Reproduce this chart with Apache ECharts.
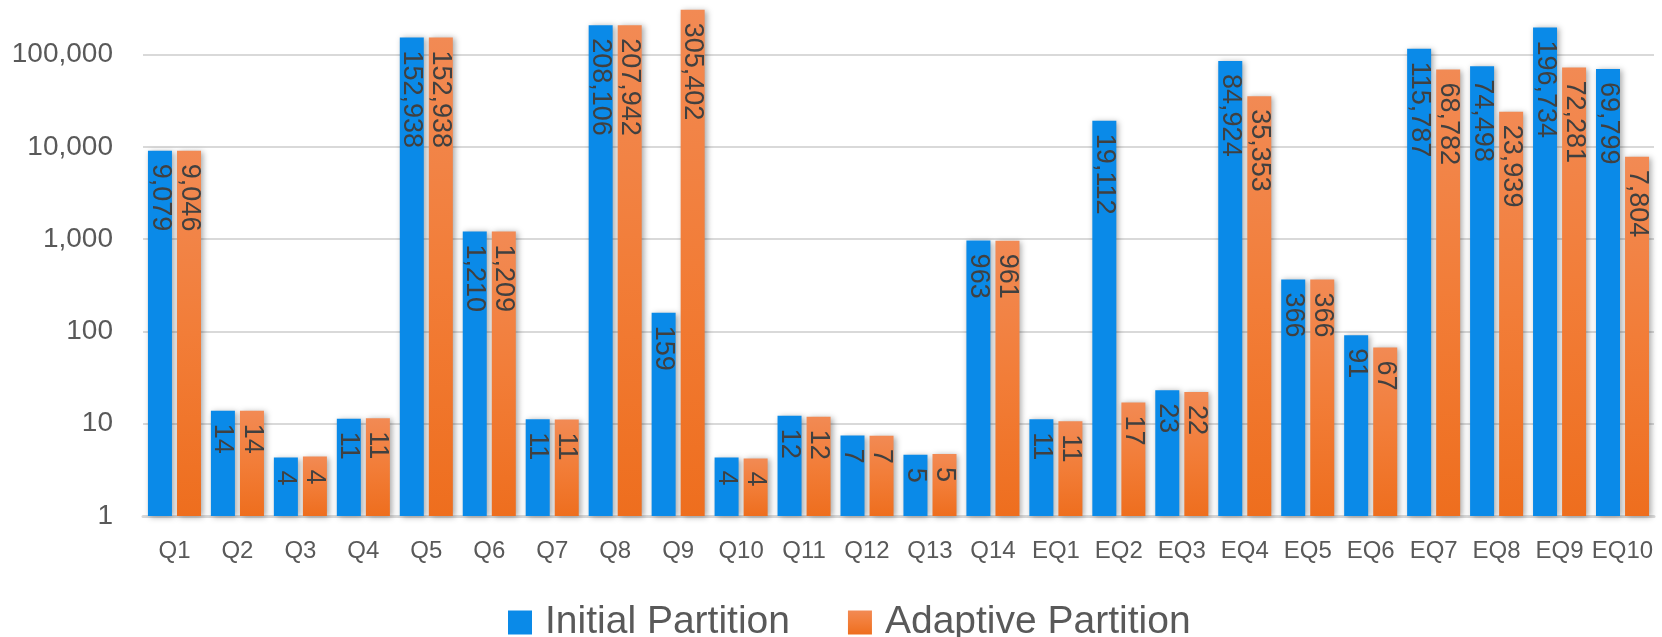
<!DOCTYPE html>
<html>
<head>
<meta charset="utf-8">
<script src="https://cdn.jsdelivr.net/npm/echarts@6/dist/echarts.min.js"></script>
<style>
html,body{margin:0;padding:0;background:#fff;}
#chart{width:1662px;height:637px;}
</style>
</head>
<body>
<div id="chart"></div>
<script>
const categories = ['Q1','Q2','Q3','Q4','Q5','Q6','Q7','Q8','Q9','Q10','Q11','Q12','Q13','Q14','EQ1','EQ2','EQ3','EQ4','EQ5','EQ6','EQ7','EQ8','EQ9','EQ10'];
const initialPartition = [9079, 13.8, 4.3, 11.3, 152938, 1210, 11.2, 208106, 159, 4.3, 12.2, 7.45, 4.6, 963, 11.2, 19112, 23, 84924, 366, 91, 115787, 74498, 196734, 69799];
const adaptivePartition = [9046, 13.8, 4.4, 11.45, 152938, 1209, 11.1, 207942, 305402, 4.2, 11.9, 7.4, 4.7, 961, 10.6, 17, 22, 35353, 366, 67, 68782, 23939, 72281, 7804];
const seriesNames = ['Initial Partition', 'Adaptive Partition'];

const chart = echarts.init(document.getElementById('chart'), null, {renderer: 'canvas'});
const fmt = v => Math.round(v).toLocaleString('en-US');
const labelCfg = {
  show: true,
  position: 'insideTop',
  rotate: -90,
  align: 'left',
  verticalAlign: 'middle',
  distance: 5,
  offset: [8, 0],
  fontFamily: 'Liberation Sans',
  fontSize: 27,
  color: '#404040',
  formatter: p => fmt(p.value)
};
const shadow = {shadowColor: 'rgba(0,0,0,0.35)', shadowBlur: 6, shadowOffsetX: 2, shadowOffsetY: 1};
const orangeGrad = new echarts.graphic.LinearGradient(0, 0, 0, 1, [
  {offset: 0, color: '#F28A54'},
  {offset: 0.5, color: '#F27D38'},
  {offset: 1, color: '#EE6E1E'}
]);
chart.setOption({
  animation: false,
  backgroundColor: '#ffffff',
  grid: {left: 143, right: 8, top: 0, bottom: 121, containLabel: false},
  legend: {
    data: [
      {name: seriesNames[0], itemStyle: {color: '#0A8AE8'}},
      {name: seriesNames[1], itemStyle: {color: orangeGrad}}
    ],
    left: 503,
    top: 598,
    itemWidth: 24,
    itemHeight: 24,
    itemGap: 58,
    icon: 'rect',
    textStyle: {fontFamily: 'Liberation Sans', fontSize: 39, lineHeight: 39, color: '#595959', padding: [0, 0, 0, 8]}
  },
  xAxis: {
    type: 'category',
    data: categories,
    axisLine: {show: true, lineStyle: {color: '#D9D9D9', width: 3}},
    axisTick: {show: false},
    axisLabel: {interval: 0, fontFamily: 'Liberation Sans', fontSize: 24, color: '#595959', margin: 23}
  },
  yAxis: {
    type: 'log',
    logBase: 10,
    min: 1,
    max: 389600,
    splitNumber: 6,
    axisLine: {show: false},
    axisTick: {show: false},
    splitLine: {show: true, showMaxLine: false, lineStyle: {color: '#D9D9D9', width: 2}},
    axisLabel: {
      showMaxLabel: false,
      fontFamily: 'Liberation Sans', fontSize: 28, color: '#595959', margin: 30,
      formatter: v => {
        const e = Math.log10(v);
        return Math.abs(e - Math.round(e)) < 1e-6 ? fmt(v) : '';
      }
    }
  },
  series: [
    {
      name: seriesNames[0],
      type: 'bar',
      data: initialPartition,
      barWidth: 24,
      barGap: '21%',
      itemStyle: Object.assign({color: '#0A8AE8'}, shadow),
      label: labelCfg
    },
    {
      name: seriesNames[1],
      type: 'bar',
      data: adaptivePartition,
      barWidth: 24,
      itemStyle: Object.assign({color: orangeGrad}, shadow),
      label: labelCfg
    }
  ]
});
</script>
</body>
</html>
